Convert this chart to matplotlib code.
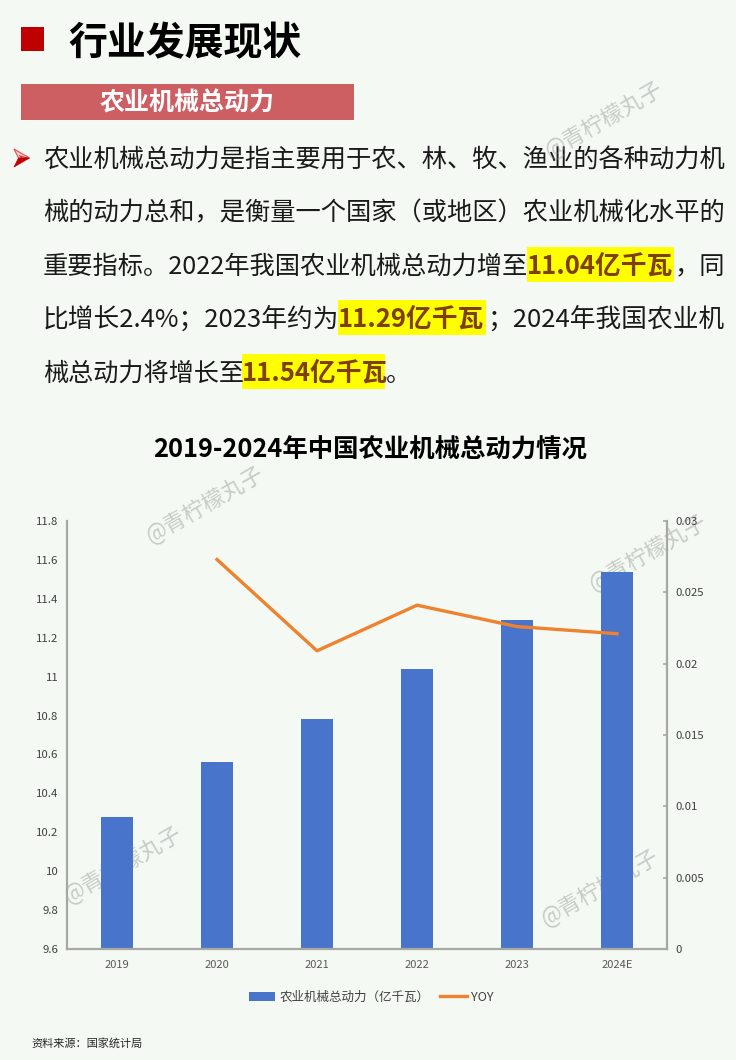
import matplotlib
matplotlib.use('Agg')
import matplotlib.pyplot as plt
from matplotlib.patches import Rectangle, Polygon

plt.rcParams['font.family'] = ['Noto Sans CJK SC', 'DejaVu Sans']

W, H = 736, 1060
BG = '#F4FAF3'

# chart data
years = ['2019', '2020', '2021', '2022', '2023', '2024E']
power = [10.28, 10.56, 10.78, 11.04, 11.29, 11.54]
yoy = [None, 0.0273, 0.0209, 0.0241, 0.0226, 0.0221]
left_ticks = [9.6, 9.8, 10, 10.2, 10.4, 10.6, 10.8, 11, 11.2, 11.4, 11.6, 11.8]
left_labels = ['9.6', '9.8', '10', '10.2', '10.4', '10.6', '10.8', '11', '11.2', '11.4', '11.6', '11.8']
right_ticks = [0, 0.005, 0.01, 0.015, 0.02, 0.025, 0.03]
right_labels = ['0', '0.005', '0.01', '0.015', '0.02', '0.025', '0.03']

# page text
heading = '行业发展现状'
subheading = '农业机械总动力'
chart_title = '2019-2024年中国农业机械总动力情况'
source = '资料来源：国家统计局'
mark = '@青柠檬丸子'
line1 = '农业机械总动力是指主要用于农、林、牧、渔业的各种动力机'
line2 = '械的动力总和，是衡量一个国家（或地区）农业机械化水平的'
line3 = ['重要指标。2022年我国农业机械总动力增至', '11.04亿千瓦', '，同']
line4 = ['比增长2.4%；2023年约为', '11.29亿千瓦', '；2024年我国农业机']
line5 = ['械总动力将增长至', '11.54亿千瓦', '。']


def fx(x):
    return x / W


def fy(y):
    return 1 - y / H


def put(x, y, s, **kw):
    return fig.text(fx(x), fy(y), s, **kw)


def box(x0, y0, x1, y1, color):
    fig.add_artist(Rectangle((fx(x0), fy(y1)), (x1 - x0) / W, (y1 - y0) / H,
                             transform=fig.transFigure, facecolor=color, edgecolor='none'))


def shape(points, **kw):
    fig.add_artist(Polygon([(fx(a), fy(b)) for a, b in points], closed=True,
                           transform=fig.transFigure, **kw))


def body_line(parts, xs, base, hi, sizes):
    # plain, highlighted, plain
    box(xs[1], hi[0], xs[2], hi[1], '#FFFF00')
    put(xs[0], base, parts[0], fontsize=sizes[0], color='#1a1a1a', va='baseline')
    put(xs[1], base, parts[1], fontsize=18.5, color='#7F3F00', weight='bold', va='baseline')
    put(xs[2] + 1, base, parts[2], fontsize=sizes[1], color='#1a1a1a', va='baseline')


fig = plt.figure(figsize=(W / 100, H / 100), dpi=100, facecolor=BG)

# header
box(21, 27, 44, 51, '#C00000')
put(68, 55, heading, fontsize=28, weight='black', color='black', va='baseline')
box(21, 84, 354, 120, '#CD5F63')
put(187, 111, subheading, fontsize=18, weight='bold', color='white', ha='center', va='baseline')

# bullet: pale upper facet, solid lower facet, glyph in the middle
shape([(14, 149), (29.5, 158), (18.5, 158)], facecolor='#F3C9C9', edgecolor='#D9534F', linewidth=0.8)
shape([(18.5, 158), (29.5, 158), (14, 167)], facecolor='#C00000', edgecolor='#C00000', linewidth=0.5)
put(16, 162, '➢', fontsize=11, color='#C00000', va='baseline')

# body text
put(43, 167, line1, fontsize=18.2, color='#1a1a1a', va='baseline')
put(43, 220, line2, fontsize=18.2, color='#1a1a1a', va='baseline')
body_line(line3, [43, 527, 674], 274, (247, 282), (18.2, 18.2))
body_line(line4, [43, 338, 486], 327, (300, 335), (18.5, 18.5))
body_line(line5, [43, 242, 385], 381, (354, 389), (18.1, 18.1))

put(370, 458, chart_title, fontsize=18.3, weight='bold', color='black', ha='center', va='baseline')

# chart
ax = fig.add_axes([fx(67), fy(949), (667 - 67) / W, (949 - 521) / H])
ax.set_facecolor('none')
ax.set_zorder(6)
x = list(range(len(years)))
bars = ax.bar(x, power, width=0.32, color='#4874CB', label='农业机械总动力（亿千瓦）')
ax.set_xlim(-0.5, 5.5)
ax.set_ylim(9.6, 11.8)
ax.set_xticks(x)
ax.set_xticklabels(years, fontsize=8, color='#595959')
ax.set_yticks(left_ticks)
ax.set_yticklabels(left_labels, fontsize=8.2, color='#404040')
ax.tick_params(axis='x', length=0, pad=8)
ax.tick_params(axis='y', length=0, pad=6)
for side in ['top', 'right']:
    ax.spines[side].set_visible(False)
for side in ['bottom', 'left']:
    ax.spines[side].set_color('#A6A9A3')
    ax.spines[side].set_linewidth(1.6)

ax2 = ax.twinx()
ax2.set_facecolor('none')
ax2.set_zorder(7)
line, = ax2.plot(x[1:], yoy[1:], color='#EE822F', linewidth=2.4, label='YOY')
ax2.set_ylim(0, 0.03)
ax2.set_yticks(right_ticks)
ax2.set_yticklabels(right_labels, fontsize=8.2, color='#404040')
ax2.tick_params(axis='y', direction='in', length=3, width=1.2, color='#A6A9A3', pad=6)
for side in ['top', 'left', 'bottom']:
    ax2.spines[side].set_visible(False)
ax2.spines['right'].set_color('#A6A9A3')
ax2.spines['right'].set_linewidth(1.6)

fig.legend(handles=[bars, line], loc='center', bbox_to_anchor=(fx(371), fy(997.5)), ncol=2,
           frameon=False, fontsize=9, labelcolor='#404040', handlelength=2.1, handleheight=0.8,
           columnspacing=0.9, handletextpad=0.35)

put(31, 1047, source, fontsize=8, color='#262626', va='baseline')

# watermarks sit under the chart marks
for wx, wy in [(604, 120), (205, 505), (648, 553), (123, 865), (600, 888)]:
    put(wx, wy, mark, fontsize=16, color='#8c8c8c', alpha=0.42, rotation=30,
        rotation_mode='anchor', ha='center', va='center', zorder=5)

fig.savefig('out.png', dpi=100, facecolor=BG)
